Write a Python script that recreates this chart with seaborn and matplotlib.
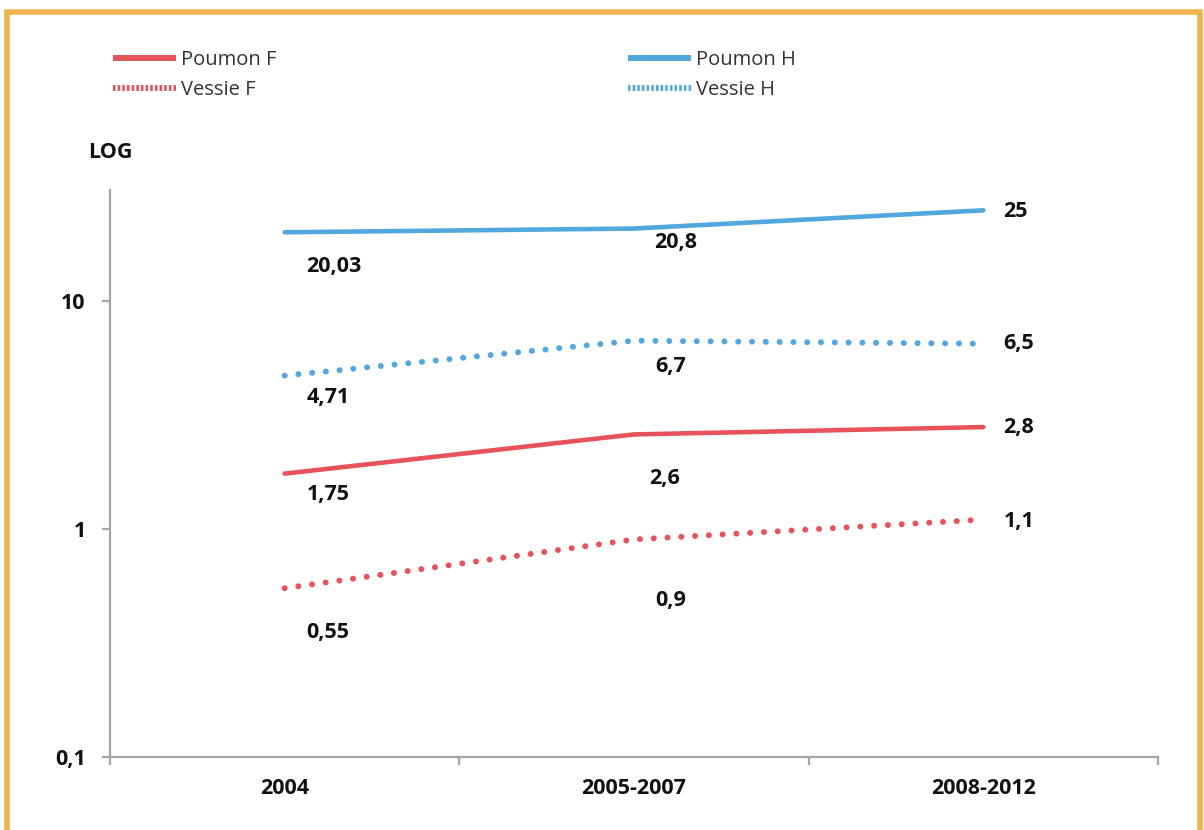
import matplotlib
matplotlib.use("Agg")
import matplotlib.pyplot as plt
import seaborn as sns
import pandas as pd
from matplotlib.lines import Line2D
from matplotlib.patches import Rectangle
from matplotlib.ticker import FixedLocator, NullFormatter

# ---- data ----
periods = ["2004", "2005-2007", "2008-2012"]
poumon_f = [1.75, 2.6, 2.8]
vessie_f = [0.55, 0.9, 1.1]
poumon_h = [20.03, 20.8, 25]
vessie_h = [4.71, 6.7, 6.5]
labels_poumon_f = ["1,75", "2,6", "2,8"]
labels_vessie_f = ["0,55", "0,9", "1,1"]
labels_poumon_h = ["20,03", "20,8", "25"]
labels_vessie_h = ["4,71", "6,7", "6,5"]
y_ticks = [0.1, 1, 10]
y_tick_labels = ["0,1", "1", "10"]
y_title = "LOG"

RED = "#E8525B"
BLUE = "#52A7DE"
TXT = "#111111"
BOLD_SIZE = 15.5

sns.set_theme(style="white")
plt.rcParams["font.family"] = ["Open Sans", "DejaVu Sans"]

fig = plt.figure(figsize=(12.04, 8.30), dpi=100)
ax = fig.add_axes([110 / 1204, 73 / 830, 1048 / 1204, 567 / 830])

x_pos = list(range(len(periods)))
series = [
    ("Poumon F", poumon_f, labels_poumon_f, RED, "-",
     [(22, -21), (15, -44), (20, 0)]),
    ("Vessie F", vessie_f, labels_vessie_f, RED, ":",
     [(22, -44), (21, -61), (20, -2)]),
    ("Poumon H", poumon_h, labels_poumon_h, BLUE, "-",
     [(22, -34), (20, -14), (20, -1)]),
    ("Vessie H", vessie_h, labels_vessie_h, BLUE, ":",
     [(22, -22), (21, -26), (20, 0)]),
]

for name, vals, labs, col, style, offs in series:
    df = pd.DataFrame({"x": x_pos, "y": vals})
    if style == "-":
        sns.lineplot(data=df, x="x", y="y", ax=ax, color=col, linewidth=3.3,
                     solid_capstyle="round", legend=False)
    else:
        sns.lineplot(data=df, x="x", y="y", ax=ax, color=col, linewidth=4.3,
                     linestyle=(0, (0.01, 2.3)), dash_capstyle="round",
                     legend=False)
    for xi, yi, lab, (dx, dy) in zip(x_pos, vals, labs, offs):
        ax.annotate(lab, (xi, yi), xytext=(dx, dy), textcoords="offset pixels",
                    ha="left", va="center", fontsize=BOLD_SIZE, fontweight="bold",
                    color=TXT)

ax.set_yscale("log")
ax.set_ylim(0.1, 30.7)
ax.set_xlim(-0.5, 2.5)
ax.yaxis.set_major_locator(FixedLocator(y_ticks))
ax.set_yticklabels(y_tick_labels)
ax.yaxis.set_minor_locator(FixedLocator([]))
ax.yaxis.set_minor_formatter(NullFormatter())
ax.set_xticks(x_pos)
ax.set_xticklabels(periods)
ax.set_xticks([-0.5, 0.5, 1.5, 2.5], minor=True)
ax.set_xlabel("")
ax.set_ylabel("")

for s in ["top", "right"]:
    ax.spines[s].set_visible(False)
for s in ["left", "bottom"]:
    ax.spines[s].set_color("#A6A6A6")
    ax.spines[s].set_linewidth(1.6)

ax.tick_params(axis="x", which="major", length=0, pad=15, labelsize=BOLD_SIZE,
               labelcolor=TXT)
ax.tick_params(axis="x", which="minor", length=6, width=1.6, color="#A6A6A6",
               direction="out", bottom=True)
ax.tick_params(axis="y", which="major", length=6, width=1.6, color="#A6A6A6",
               direction="out", left=True, pad=11.5, labelsize=BOLD_SIZE,
               labelcolor=TXT)
for t in ax.get_xticklabels() + ax.get_yticklabels():
    t.set_fontweight("bold")

fig.text(88 / 1204, 1 - 152 / 830, y_title, ha="left", va="center",
         fontsize=BOLD_SIZE, fontweight="bold", color=TXT)

# legend
def handle(col, style):
    if style == "-":
        return Line2D([], [], color=col, linewidth=4.3, solid_capstyle="butt")
    return Line2D([], [], color=col, linewidth=4.3,
                  linestyle=(0, (0.42, 0.36)), dash_capstyle="butt")

leg_kw = dict(frameon=False, fontsize=14.5, handlelength=3.15, handletextpad=0.22,
              labelspacing=0.52, borderpad=0, borderaxespad=0,
              labelcolor="#333333", loc="upper left")
fig.legend([handle(RED, "-"), handle(RED, ":")], ["Poumon F", "Vessie F"],
           bbox_to_anchor=(113 / 1204, 1 - 50 / 830), **leg_kw)
fig.legend([handle(BLUE, "-"), handle(BLUE, ":")], ["Poumon H", "Vessie H"],
           bbox_to_anchor=(628 / 1204, 1 - 50 / 830), **leg_kw)

# orange frame
fig.patches.append(Rectangle((7 / 1204, -20 / 830), 1193 / 1204, (830 - 12 + 20) / 830,
                             transform=fig.transFigure, fill=False,
                             edgecolor="#F0B24E", linewidth=4, zorder=0))

fig.savefig("out.png", dpi=100)
